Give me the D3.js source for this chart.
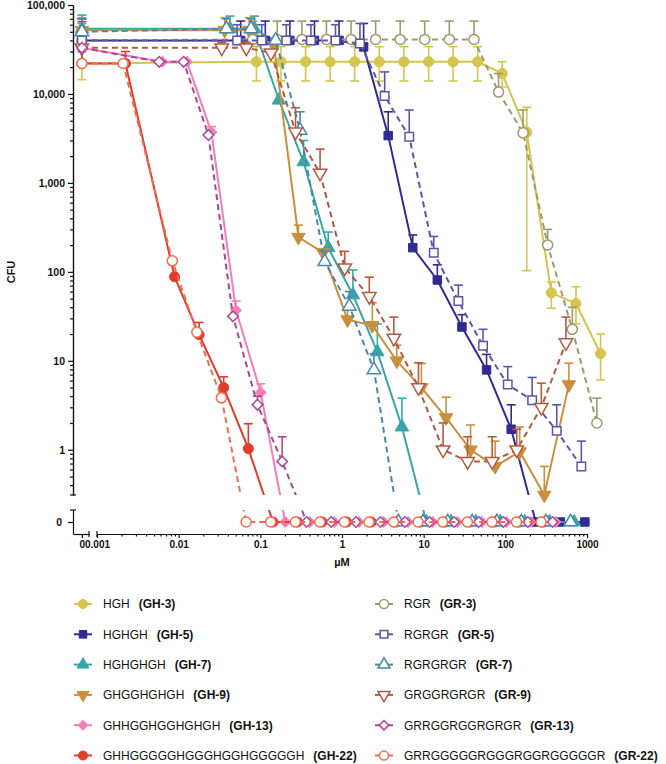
<!DOCTYPE html>
<html><head><meta charset="utf-8">
<script src="https://cdn.jsdelivr.net/npm/d3@7"></script>
<style>
body{margin:0;background:#fff}
svg{display:block}
text{font-family:"Liberation Sans",Arial,Helvetica,sans-serif;fill:#111}
</style>
</head><body>
<svg id="chart" width="666" height="764"></svg>
<script>
// ---------------- DATA (concentration in µM; 0 = untreated control) ----------------
const names = ["HGH","HGHGH","HGHGHGH","GHGGHGHGH","GHHGGHGGHGHGH","GHHGGGGGHGGGHGGHGGGGGH",
               "RGR","RGRGR","RGRGRGR","GRGGRGRGR","GRRGGRGGRGRGR","GRRGGGGGRGGGRGGRGGGGGR"];
const codes = ["GH-3","GH-5","GH-7","GH-9","GH-13","GH-22","GR-3","GR-5","GR-7","GR-9","GR-13","GR-22"];

const gh3_conc = [0,0.0895,0.179,0.358,0.716,1.43,2.86,5.73,11.5,22.9,45.8,91.6,183,366,733,1466];
const gh3_cfu  = [22000,23000,23000,23000,23000,23000,23000,23000,23000,23000,23000,17000,3700,58,44,12];
const gh3_hi   = [33000,34000,34000,34000,34000,34000,34000,34000,34000,34000,34000,23000,7100,77,68,20];
const gh3_lo   = [14500,14000,14000,14000,14000,14000,14000,14000,14000,14000,14000,12000,103,39,26,6.1];

const gh5_conc = [0,0.0575,0.115,0.23,0.46,0.92,1.84,3.68,7.36,14.7,29.4,58.9,118,236,471,942];
const gh5_cfu  = [40000,40000,40000,40000,40000,40000,33800,3400,187,81,24,7.9,1.7,0,0,0];
const gh5_hi   = [70000,66000,66000,66000,66000,66000,62000,6300,260,120,33,11.8,3.2,null,null,null];

const gh7_conc = [0,0.0424,0.0847,0.169,0.339,0.678,1.36,2.71,5.42,10.8,21.7,43.4,86.7,173,347,694];
const gh7_cfu  = [54000,54000,54000,8500,1720,187,55,12.6,1.8,0,0,0,0,0,0,0];
const gh7_hi   = [77000,75000,75000,null,3000,280,105,26,3.8,null,null,null,null,null,null,null];

const gh9_conc = [0,0.0366,0.0733,0.147,0.293,0.586,1.17,2.35,4.69,9.38,18.8,37.5,75.0,150,300,600];
const gh9_cfu  = [52000,52000,52000,35000,245,165,29,25,10,5,2.3,1.0,0.65,0.95,0.31,5.4];
const gh9_hi   = [72000,72000,72000,null,335,null,37,45,15,9.3,3.9,1.9,1.25,1.8,0.65,9.4];

const gh13_conc = [0,0.0063,0.0126,0.0252,0.0504,0.101,0.202,0.403,0.806,1.61,3.23,6.45,12.9,25.8,51.6,103,206,413];
const gh13_cfu  = [33000,23000,23000,3700,37,4.4,0,0,0,0,0,0,0,0,0,0,0,0];
const gh13_hi   = [null,null,null,4300,47,5.5,null,null,null,null,null,null,null,null,null,null,null,null];

const gh22_conc = [0,0.00223,0.00891,0.0178,0.0356,0.0713,0.143,0.285,0.570,1.14,2.28,4.56,9.12,18.2,36.5,73.0,146,292];
const gh22_cfu  = [22000,22000,88,19.7,5.0,1.03,0,0,0,0,0,0,0,0,0,0,0,0];
const gh22_hi   = [30000,30000,null,27,6.6,1.96,null,null,null,null,null,null,null,null,null,null,null,null];

const gr3_conc = [0,0.0806,0.161,0.323,0.645,1.29,2.58,5.16,10.3,20.6,41.3,82.6,165,330,661,1321];
const gr3_cfu  = [40000,41000,41000,41000,41000,41000,41000,41000,41000,41000,41000,10500,3650,200,22.6,2.0];
const gr3_hi   = [62000,66000,66000,66000,66000,66000,66000,66000,66000,66000,66000,17000,6600,300,40,3.8];

const gr5_conc = [0,0.052,0.104,0.208,0.416,0.832,1.66,3.33,6.66,13.3,26.6,53.3,107,213,426,852];
const gr5_cfu  = [40000,40000,40000,40000,40000,40000,37000,9500,3300,164,47,14.8,5.4,3.6,1.63,0.65];
const gr5_hi   = [65000,60000,60000,60000,60000,60000,62000,17700,6600,250,71,22.6,8.6,6.5,3.2,1.25];

const gr7_conc = [0,0.0384,0.0768,0.154,0.307,0.614,1.23,2.46,4.91,9.83,19.7,39.3,78.6,157,314,629];
const gr7_cfu  = [50000,54000,54000,40000,3900,130,41,7.9,0,0,0,0,0,0,0,0];
const gr7_hi   = [70000,70000,70000,null,6300,170,60,12,null,null,null,null,null,null,null,null];

const gr9_conc = [0,0.0337,0.0674,0.135,0.27,0.539,1.08,2.16,4.31,8.63,17.3,34.5,69.0,138,276,552];
const gr9_cfu  = [33000,33000,33000,29000,3740,1290,111,53,18,5.0,1.0,0.74,0.74,1.0,3.0,16];
const gr9_hi   = [null,38000,38000,null,7000,2400,170,87,31,9.5,2.0,1.4,1.4,1.7,5.6,31];

const gr13_conc = [0,0.00577,0.0115,0.0231,0.0462,0.0923,0.185,0.369,0.738,1.48,2.95,5.91,11.8,23.6,47.2,94.5,189,378];
const gr13_cfu  = [33000,23000,23000,3460,31.6,3.2,0.74,0,0,0,0,0,0,0,0,0,0,0];
const gr13_hi   = [null,null,null,null,null,4.0,1.4,null,null,null,null,null,null,null,null,null,null,null];

const gr22_conc = [0,0.00209,0.00836,0.0167,0.0334,0.0669,0.134,0.268,0.535,1.07,2.14,4.28,8.56,17.1,34.3,68.5,137,274];
const gr22_cfu  = [22000,22000,133,21,3.84,0,0,0,0,0,0,0,0,0,0,0,0,0];
const gr22_hi   = [null,null,null,null,null,null,null,null,null,null,null,null,null,null,null,null,null,null];

const yTicks = [1,10,100,1000,10000,100000];
const xTicks = [0.001,0.01,0.1,1,10,100,1000];

// ---------------- STYLE ----------------
const colors = ["#d5c44d","#302b93","#38a5a8","#c98f3c","#f27fb4","#e23b2b",
                "#9c9b6d","#5b56a6","#4b88a8","#b25a40","#a9489b","#f26e4e"];
const symbols = ["circle","square","triangle","tridown","diamond","circle",
                 "circle","square","triangle","tridown","diamond","circle"];

const series = [
  {conc:gh3_conc,cfu:gh3_cfu,hi:gh3_hi,lo:gh3_lo},
  {conc:gh5_conc,cfu:gh5_cfu,hi:gh5_hi},
  {conc:gh7_conc,cfu:gh7_cfu,hi:gh7_hi},
  {conc:gh9_conc,cfu:gh9_cfu,hi:gh9_hi},
  {conc:gh13_conc,cfu:gh13_cfu,hi:gh13_hi},
  {conc:gh22_conc,cfu:gh22_cfu,hi:gh22_hi},
  {conc:gr3_conc,cfu:gr3_cfu,hi:gr3_hi},
  {conc:gr5_conc,cfu:gr5_cfu,hi:gr5_hi},
  {conc:gr7_conc,cfu:gr7_cfu,hi:gr7_hi},
  {conc:gr9_conc,cfu:gr9_cfu,hi:gr9_hi},
  {conc:gr13_conc,cfu:gr13_cfu,hi:gr13_hi},
  {conc:gr22_conc,cfu:gr22_cfu,hi:gr22_hi}
].map((s,i)=>Object.assign(s,{name:names[i],code:codes[i],color:colors[i],sym:symbols[i],filled:i<6,dashed:i>=6}));

// ---------------- SCALES ----------------
const svg = d3.select("#chart");
const yLog = d3.scaleLog().domain([0.31,100000]).range([495,5]);
const yZ = d3.scaleLinear().domain([-1,1]).range([534,510]);
const xLog = d3.scaleLog().domain([0.001,1000]).range([97,587]);
const xZ = d3.scaleLinear().domain([-1,0.8]).range([73,89]);
const X = c => c===0 ? xZ(0) : xLog(c);
const Y = v => v===0 ? yZ(0) : yLog(v);
const axisX = xZ.range()[0];
const axisY = yZ.range()[0];

// ---------------- AXES ----------------
const gAx = svg.append("g").attr("class","axes");
function minors(lo,hi){const r=[];for(let e=Math.floor(Math.log10(lo));e<=Math.ceil(Math.log10(hi));e++){for(let k=2;k<=9;k++){const v=k*Math.pow(10,e);if(v>=lo&&v<=hi)r.push(v);}}return r;}
const FS = 10;
gAx.append("g").attr("transform",`translate(${axisX},0)`)
  .call(d3.axisLeft(yLog).tickValues(yTicks).tickFormat(d3.format(",")).tickSize(5).tickPadding(3).tickSizeOuter(0))
  .call(g=>g.selectAll("text").attr("font-size",10.5).attr("font-weight","bold"));
gAx.append("g").attr("transform",`translate(${axisX},0)`)
  .call(d3.axisLeft(yLog).tickValues(minors(0.31,100000)).tickFormat("").tickSize(3).tickSizeOuter(0));
gAx.append("g").attr("transform",`translate(${axisX},0)`)
  .call(d3.axisLeft(yZ).tickValues([0]).tickFormat(d3.format("d")).tickSize(5).tickPadding(6).tickSizeOuter(0))
  .call(g=>g.selectAll("text").attr("font-size",10.5).attr("font-weight","bold"));
gAx.append("g").attr("transform",`translate(0,${axisY})`)
  .call(d3.axisBottom(xZ).tickValues([0]).tickFormat(d3.format("d")).tickSize(4).tickPadding(3).tickSizeOuter(0))
  .call(g=>g.selectAll("text").attr("font-size",FS).attr("font-weight","bold"));
gAx.append("g").attr("transform",`translate(0,${axisY})`)
  .call(d3.axisBottom(xLog).tickValues(xTicks).tickFormat(d3.format("~g")).tickSize(4).tickPadding(3).tickSizeOuter(0))
  .call(g=>g.selectAll("text").attr("font-size",FS).attr("font-weight","bold"));
gAx.append("g").attr("transform",`translate(0,${axisY})`)
  .call(d3.axisBottom(xLog).tickValues(minors(0.001,1000)).tickFormat("").tickSize(2.5).tickSizeOuter(0));
gAx.selectAll("path,line").attr("stroke","#111").attr("stroke-width",1.2);
const caps = [
  [axisX-3,yLog.range()[0],axisX+3,yLog.range()[0]],
  [axisX-3,yZ.range()[1],axisX+3,yZ.range()[1]],
  [xZ.range()[1],axisY-3,xZ.range()[1],axisY+3],
  [xLog.range()[0],axisY-3,xLog.range()[0],axisY+3]
];
gAx.selectAll("line.cap").data(caps).join("line").attr("class","cap")
  .attr("x1",d=>d[0]).attr("y1",d=>d[1]).attr("x2",d=>d[2]).attr("y2",d=>d[3])
  .attr("stroke","#111").attr("stroke-width",1.2);

svg.append("text").attr("transform",`translate(15,${(yLog.range()[0]+yLog.range()[1])/2+22}) rotate(-90)`)
  .attr("text-anchor","middle").attr("font-size",11).attr("font-weight","bold").text("CFU");
svg.append("text").attr("x",xLog(1)).attr("y",566).attr("text-anchor","middle")
  .attr("font-size",11).attr("font-weight","bold").text("µM");

// ---------------- CLIP for lines (hide axis gap) ----------------
const defs = svg.append("defs");
const cp = defs.append("clipPath").attr("id","lineclip");
cp.append("rect").attr("x",0).attr("y",0).attr("width",666).attr("height",yLog.range()[0]);
cp.append("rect").attr("x",0).attr("y",yZ.range()[1]).attr("width",666).attr("height",yZ.range()[0]-yZ.range()[1]);

// ---------------- SYMBOLS ----------------
function symPath(sym,scale){
  const k = scale||1;
  if(sym==="circle") return d3.symbol(d3.symbolCircle,80*k)();
  if(sym==="square") return d3.symbol(d3.symbolSquare,72*k)();
  if(sym==="triangle") return d3.symbol(d3.symbolTriangle,78*k)();
  if(sym==="tridown") return d3.symbol(d3.symbolTriangle,78*k)();
  if(sym==="diamond") return d3.symbol(d3.symbolSquare,56*k)();
}
function symRot(sym){ return sym==="tridown"?180:(sym==="diamond"?45:0); }

// ---------------- PLOT ----------------
const line = d3.line().x(d=>X(d.c)).y(d=>Y(d.v));
series.forEach(s=>{
  const pts = s.conc.map((c,i)=>({c,v:s.cfu[i],hi:s.hi[i],lo:s.lo?s.lo[i]:null}));
  const g = svg.append("g");
  pts.filter(p=>p.hi!=null||p.lo!=null).forEach(p=>{
    const x=X(p.c), y=Y(p.v);
    [p.hi,p.lo].forEach(e=>{
      if(e==null) return;
      g.append("line").attr("x1",x).attr("x2",x).attr("y1",y).attr("y2",Y(e)).attr("stroke",s.color).attr("stroke-width",1.6);
      g.append("line").attr("x1",x-4.5).attr("x2",x+4.5).attr("y1",Y(e)).attr("y2",Y(e)).attr("stroke",s.color).attr("stroke-width",1.6);
    });
  });
  g.append("path").attr("d",line(pts)).attr("fill","none").attr("stroke",s.color)
    .attr("stroke-width",2).attr("stroke-dasharray",s.dashed?"6,4":null).attr("clip-path","url(#lineclip)");
  g.selectAll("path.m").data(pts).join("path").attr("class","m")
    .attr("d",symPath(s.sym))
    .attr("transform",d=>`translate(${X(d.c)},${Y(d.v)}) rotate(${symRot(s.sym)})`)
    .attr("fill",s.filled?s.color:"#fff").attr("stroke",s.color).attr("stroke-width",s.filled?1:1.5);
});

// ---------------- LEGEND ----------------
const leg = svg.append("g").attr("class","legend");
series.forEach((s,i)=>{
  const col = i<6?0:1, row = i%6;
  const mx = col===0?83:384, tx = col===0?103:404, y = 604+row*30.3;
  const g = leg.append("g");
  g.append("line").attr("x1",mx-9).attr("x2",mx+9).attr("y1",y).attr("y2",y).attr("stroke",s.color).attr("stroke-width",2);
  g.append("path").attr("d",symPath(s.sym,0.8)).attr("transform",`translate(${mx},${y}) rotate(${symRot(s.sym)})`)
    .attr("fill",s.filled?s.color:"#fff").attr("stroke",s.color).attr("stroke-width",s.filled?1:1.5);
  const t = g.append("text").attr("x",tx).attr("y",y+4.3).attr("font-size",12);
  t.append("tspan").text(s.name);
  t.append("tspan").attr("dx",9).attr("font-weight","bold").text(`(${s.code})`);
});
</script>
</body></html>
